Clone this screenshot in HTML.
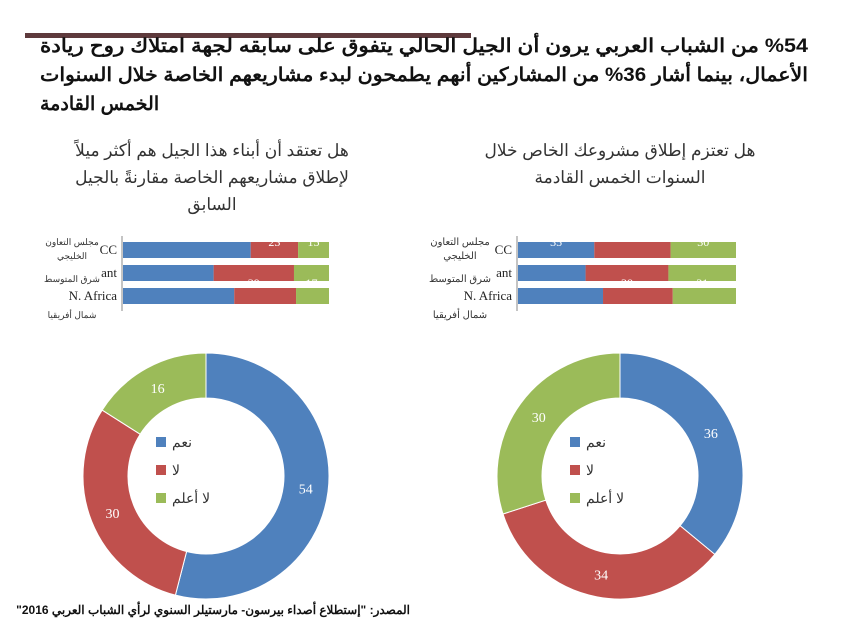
<!DOCTYPE html>
<html><head><meta charset="utf-8"><style>
body{margin:0;width:841px;height:630px;background:#fff;overflow:hidden;font-family:"Liberation Sans","Noto Sans CJK SC",sans-serif}
svg{position:absolute;left:0;top:0}
</style></head><body>
<svg width="841" height="630">
<rect x="25" y="33" width="446" height="5" fill="#5e3a3c"/>
<g font-weight="bold" font-size="19" fill="#111" direction="rtl">
<text x="40" y="52" text-anchor="end" textLength="768" lengthAdjust="spacingAndGlyphs">%54 من الشباب العربي يرون أن الجيل الحالي يتفوق على سابقه لجهة امتلاك روح ريادة</text>
<text x="40" y="81" text-anchor="end" textLength="768" lengthAdjust="spacingAndGlyphs">الأعمال، بينما أشار 36% من المشاركين أنهم يطمحون لبدء مشاريعهم الخاصة خلال السنوات</text>
<text x="40" y="110" text-anchor="end">الخمس القادمة</text>
</g>
<g font-size="17" fill="#333" text-anchor="middle" direction="rtl">
<text x="212" y="156">هل تعتقد أن أبناء هذا الجيل هم أكثر ميلاً</text>
<text x="212" y="183">لإطلاق مشاريعهم الخاصة مقارنةً بالجيل</text>
<text x="212" y="210">السابق</text>
</g>
<g font-size="17" fill="#333" text-anchor="middle" direction="rtl">
<text x="620" y="156">هل تعتزم إطلاق مشروعك الخاص خلال</text>
<text x="620" y="183">السنوات الخمس القادمة</text>
</g>
<g id="charts"></g>
<text x="410" y="614" font-size="12" font-weight="bold" text-anchor="start" direction="rtl" fill="#111">المصدر: "إستطلاع أصداء بيرسون- مارستيلر السنوي لرأي الشباب العربي 2016"</text>
</svg>
<script>
const regions=["CC","ant","N. Africa"];
const leftYes=[62,44,54];
const leftNo=[23,39,30];
const leftDK=[15,17,16];
const rightYes=[35,31,39];
const rightNo=[35,38,32];
const rightDK=[30,31,29];
const leftDonut=[54,30,16];
const rightDonut=[36,34,30];
const legendLabels=["نعم","لا","لا أعلم"];
const colors=["#4f81bd","#c0504d","#9bbb59"];
const NS="http://www.w3.org/2000/svg";
const root=document.getElementById('charts');
function mk(t,a,p){const e=document.createElementNS(NS,t);for(const k in a)e.setAttribute(k,a[k]);(p||root).appendChild(e);return e;}
function bars(x0,w,series,shown,nameP){
  const g=mk('g',{});
  
  
  const rowY=[242,265,288],h=16;
  const ax=mk('line',{x1:x0-1,x2:x0-1,y1:236,y2:311,stroke:'#888'},g);
  
  
  regions.forEach((r,i)=>{
    let acc=0;
    series.forEach((s,j)=>{
      const rx=x0+acc/100*w, rw=s[i]/100*w;
      const b=mk('rect',{x:rx,y:rowY[i],width:rw,height:h,fill:colors[j]},g);
      
      
      if(shown[i]&&shown[i][j]){const t=mk('text',{x:rx+rw/2,y:rowY[i]+(i==0?4:22),'font-size':12,fill:'#fff','text-anchor':'middle','font-family':'Liberation Serif'},g);t.textContent=s[i];
        }
      acc+=s[i];
    });
    const en=mk('text',{x:x0-6,y:rowY[i]+12,'font-size':13,'text-anchor':'end','font-family':'Liberation Serif',fill:'#222'},g);
    en.textContent=r;
    
  });
}
bars(123,206,[leftYes,leftNo,leftDK],[[0,1,1],[0,1,1],[0,0,0]],'left');
bars(518,218,[rightYes,rightNo,rightDK],[[1,0,1],[0,1,1],[0,0,0]],'right');
[0,1].forEach(k=>{
  const lines=[["مجلس التعاون",245],["الخليجي",259],["شرق المتوسط",282],["شمال أفريقيا",318]];
  lines.forEach(([s,y])=>{const t=mk('text',{x:k==0?72:460,y:y,'font-size':k==0?9:10,'text-anchor':'middle',direction:'rtl',fill:'#333'});t.textContent=s;
    });
});
function donut(cx,cy,R,r,vals,nameP){
  const g=mk('g',{});
  
  
  const tot=vals.reduce((a,b)=>a+b,0);let a0=-Math.PI/2;
  vals.forEach((v,i)=>{
    const a1=a0+v/tot*2*Math.PI,lg=(a1-a0)>Math.PI?1:0;
    const p=(rad,a)=>[cx+rad*Math.cos(a),cy+rad*Math.sin(a)];
    const [x1,y1]=p(R,a0),[x2,y2]=p(R,a1),[x3,y3]=p(r,a1),[x4,y4]=p(r,a0);
    const s=mk('path',{d:`M${x1},${y1}A${R},${R} 0 ${lg} 1 ${x2},${y2}L${x3},${y3}A${r},${r} 0 ${lg} 0 ${x4},${y4}Z`,fill:colors[i],stroke:'#fff','stroke-width':1},g);
    
    
    const am=(a0+a1)/2,[lx,ly]=p((R+r)/2,am);
    const t=mk('text',{x:lx,y:ly+5,'font-size':14,fill:'#fff','text-anchor':'middle','font-family':'Liberation Serif'},g);
    t.textContent=v;
    
    a0=a1;
  });
  legendLabels.forEach((l,i)=>{
    const y=cy-34+i*28;
    const sq=mk('rect',{x:cx-50,y:y-5,width:10,height:10,fill:colors[i]},g);
    
    const t=mk('text',{x:cx-34,y:y+5,'font-size':14,fill:'#333','text-anchor':'start'},g);
    t.textContent=l;
    
  });
}
donut(206,476,123,78,leftDonut,'left');
donut(620,476,123,78,rightDonut,'right');
</script>
</body></html>
